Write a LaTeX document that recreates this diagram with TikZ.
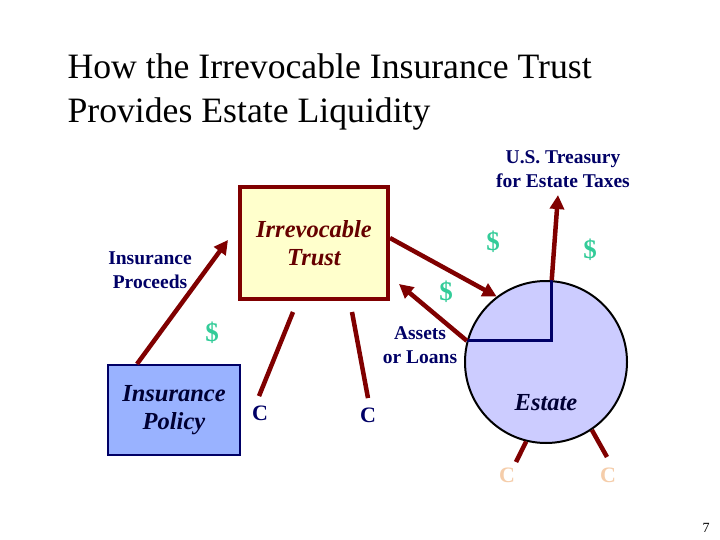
\documentclass[tikz,border=0pt]{standalone}
\usepackage{fontspec}
\setmainfont{Liberation Serif}
\usetikzlibrary{arrows.meta}
\definecolor{maroon}{RGB}{128,0,0}
\definecolor{trustred}{RGB}{102,0,0}
\definecolor{navy}{RGB}{0,0,102}
\definecolor{ink}{RGB}{0,0,51}
\definecolor{cashgreen}{RGB}{51,204,153}
\definecolor{peach}{RGB}{245,205,170}
\definecolor{trustfill}{RGB}{255,255,204}
\definecolor{policyfill}{RGB}{153,178,255}
\definecolor{estatefill}{RGB}{204,204,255}
\begin{document}
\begin{tikzpicture}[x=1pt,y=-1pt,
    flow/.style={draw=maroon, line width=4.5pt},
    arr/.style={flow, -{Triangle[length=14pt,width=14pt]}},
    lbl/.style={text=navy, align=center, font=\bfseries\fontsize{19.5}{24}\selectfont},
    cash/.style={text=cashgreen, font=\bfseries\fontsize{27}{27}\selectfont},
    claim/.style={text=navy, font=\bfseries\fontsize{22}{22}\selectfont},
    boxtxt/.style={align=center, font=\bfseries\itshape\fontsize{24.5}{28}\selectfont}]
    \useasboundingbox[fill=white] (0,0) rectangle (720,540);
    % Title
    \node[anchor=base west, font=\fontsize{35.7}{44}\selectfont] (title1) at (64,79) {How the Irrevocable Insurance Trust};
    \node[anchor=base west, font=\fontsize{35.7}{44}\selectfont] (title2) at (64,123) {Provides Estate Liquidity};
    % Boxes and estate
    \node[boxtxt, text=trustred, draw=maroon, line width=4pt, fill=trustfill,
          minimum width=148pt, minimum height=112pt] (trust) at (314,243) {Irrevocable\\Trust};
    \node[boxtxt, text=ink, draw=navy, line width=2pt, fill=policyfill,
          minimum width=132pt, minimum height=90pt] (policy) at (174,410) {Insurance\\Policy};
    \node[circle, draw=black, line width=2pt, fill=estatefill, minimum size=162pt] (estate) at (546,362) {};
    \node[boxtxt, text=ink] (estatetxt) at (546,403) {Estate};
    % Labels
    \node[lbl] (proceeds) at (150,270) {Insurance\\Proceeds};
    \node[lbl] (treasury) at (563,169) {U.S. Treasury\\for Estate Taxes};
    \node[lbl] (assets) at (420,345) {Assets\\or Loans};
    \node[cash] (d1) at (212,333) {\$};
    \node[cash] (d2) at (446,292) {\$};
    \node[cash] (d3) at (493,242) {\$};
    \node[cash] (d4) at (590,250) {\$};
    \node[claim] (c1) at (260,413) {C};
    \node[claim] (c2) at (368,415) {C};
    \node[claim, text=peach] (c3) at (507,475) {C};
    \node[claim, text=peach] (c4) at (608,475) {C};
    \node[font=\fontsize{14}{14}\selectfont] (page) at (706,528) {7};
    % Navy split inside the estate
    \draw[navy, line width=3pt] (estate.86) |- (estate.165);
    % Money flows
    \draw[arr] ([xshift=30pt]policy.north west) -- ([xshift=-10pt,yshift=3pt]trust.west);
    \draw[arr] ([yshift=5pt]trust.east) -- (estate.127);
    \draw[arr] (estate.165) -- ([xshift=9pt,yshift=17pt]trust.south east);
    \draw[arr] (estate.86) -- ([xshift=-5pt,yshift=-4pt]treasury.south);
    % Claims
    \coordinate (c1top) at (293,312);
    \coordinate (c2top) at (352,312);
    \coordinate (c3end) at (516,462);
    \coordinate (c4end) at (607,457);
    \draw[flow] (c1top) -- ([xshift=-1pt,yshift=6pt]c1.north);
    \draw[flow] (c2top) -- ([yshift=6pt]c2.north);
    \draw[flow] (estate.256) -- (c3end);
    \draw[flow] (estate.304) -- (c4end);
\end{tikzpicture}
\end{document}
